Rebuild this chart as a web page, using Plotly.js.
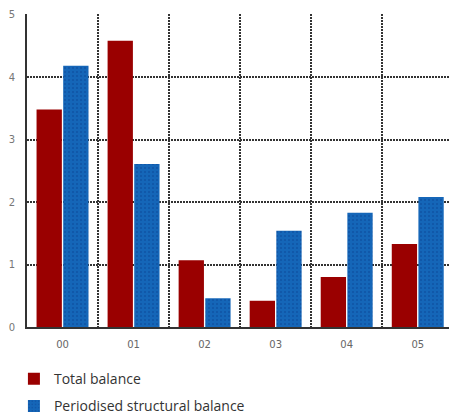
<!DOCTYPE html>
<html>
<head>
<meta charset="utf-8">
<script src="https://cdn.plot.ly/plotly-3.0.1.min.js"></script>
<style>html,body{margin:0;padding:0;background:#fff;}#chart{width:449px;height:417px;}</style>
</head>
<body>
<div id="chart"></div>
<script>
var categories = ["00", "01", "02", "03", "04", "05"];
var totalBalance = [3.48, 4.58, 1.07, 0.42, 0.80, 1.33];
var structuralBalance = [4.18, 2.61, 0.46, 1.54, 1.83, 2.08];
var seriesNames = ["Total balance", "Periodised structural balance"];
var yTicks = [0, 1, 2, 3, 4, 5];

var gridStyle = {color: "#333333", width: 2, dash: "2px,1px"};

var traces = [
  {
    type: "bar", name: seriesNames[0], x: categories, y: totalBalance, legendgroup: "a",
    marker: {color: "#9a0000", line: {width: 0}}
  },
  {
    type: "bar", name: seriesNames[1], x: categories, y: structuralBalance, legendgroup: "b",
    marker: {color: "#1566b8", line: {width: 0},
      pattern: {shape: ".", fgcolor: "#0a3f8f", bgcolor: "#1566b8", size: 4, solidity: 0.2, fillmode: "overlay"}}
  }
];

var layout = {
  width: 449, height: 417,
  margin: {l: 27, r: 0, t: 14, b: 90, pad: 0, autoexpand: false},
  paper_bgcolor: "#ffffff", plot_bgcolor: "#ffffff",
  barmode: "group", bargap: 0.25, bargroupgap: 0.05,
  font: {family: "Open Sans, DejaVu Sans, sans-serif", color: "#333"},
  xaxis: {
    type: "category", tickson: "boundaries", range: [-0.5, 5.44],
    showgrid: true, gridcolor: gridStyle.color, gridwidth: gridStyle.width, griddash: gridStyle.dash,
    showline: true, linecolor: gridStyle.color, linewidth: gridStyle.width,
    ticks: "", tickfont: {size: 10, color: "#666", family: "DejaVu Sans, sans-serif"},
    ticklabelstandoff: 7, fixedrange: true
  },
  yaxis: {
    range: [0, 5.01], tickvals: yTicks, ticktext: yTicks.map(String),
    showgrid: true, gridcolor: gridStyle.color, gridwidth: gridStyle.width, griddash: gridStyle.dash,
    zeroline: false, showline: true, linecolor: gridStyle.color, linewidth: gridStyle.width,
    ticks: "", tickfont: {size: 10, color: "#777", family: "DejaVu Sans, sans-serif"}, ticklabelstandoff: 8, fixedrange: true
  },
  showlegend: true,
  legend: {
    orientation: "v", xref: "container", yref: "container",
    x: 0.031, xanchor: "left", y: 0.129, yanchor: "top",
    font: {size: 14, color: "#333", family: "Open Sans, sans-serif"},
    bgcolor: "rgba(0,0,0,0)", traceorder: "grouped", tracegroupgap: 6, itemwidth: 30
  }
};

Plotly.newPlot("chart", traces, layout, {staticPlot: true, displayModeBar: false});
</script>
</body>
</html>
